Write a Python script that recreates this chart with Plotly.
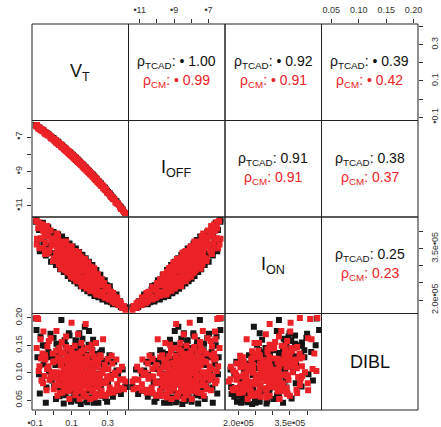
import plotly.graph_objects as go

# ---------------- data ----------------
# TCAD samples (black)
vt_tcad = [-0.097,-0.088,-0.079,-0.071,-0.062,-0.054,-0.047,-0.038,-0.031,-0.024,
           -0.016,-0.009,-0.003,0.004,0.011,0.017,0.023,0.029,0.034,0.039,
           0.044,0.049,0.053,0.058,0.062,0.066,0.070,0.074,0.078,0.081,
           0.085,0.088,0.092,0.095,0.098,0.101,0.104,0.107,0.110,0.113,
           0.116,0.119,0.122,0.125,0.128,0.131,0.134,0.137,0.140,0.143,
           0.146,0.149,0.152,0.155,0.158,0.161,0.164,0.167,0.170,0.173,
           0.176,0.179,0.182,0.186,0.190,0.194,0.198,0.202,0.206,0.210,
           0.214,0.219,0.224,0.229,0.234,0.239,0.244,0.249,0.255,0.261,
           0.267,0.273,0.280,0.287,0.294,0.301,0.309,0.317,0.326,0.335,
           0.345,0.356,0.368,0.382,0.396,
           0.120,0.150,0.060,0.200,0.257,0.090,
           -0.093,-0.075,-0.058,-0.042,-0.028,-0.013,0.001,0.014,0.026,0.037,
           0.048,0.057,0.069,0.079,0.089,0.097,0.106,0.115,0.124,0.133,
           0.142,0.151,0.160,0.169,0.178,0.187,0.196,0.205,0.215,0.226,
           0.237,0.248,0.259,0.270,0.283,0.296,0.311,0.328,0.348,0.372,
           0.135,0.105,0.165,0.075,0.222]
ioff_tcad = [-6.30,-6.41,-6.45,-6.53,-6.60,-6.63,-6.72,-6.77,-6.85,-6.89,
             -6.97,-7.03,-7.06,-7.14,-7.19,-7.26,-7.31,-7.34,-7.41,-7.43,
             -7.50,-7.52,-7.58,-7.61,-7.66,-7.70,-7.72,-7.78,-7.81,-7.82,
             -7.88,-7.89,-7.95,-7.96,-8.01,-8.02,-8.06,-8.07,-8.12,-8.13,
             -8.18,-8.19,-8.24,-8.25,-8.30,-8.31,-8.36,-8.37,-8.42,-8.43,
             -8.48,-8.50,-8.55,-8.56,-8.61,-8.62,-8.67,-8.68,-8.73,-8.75,
             -8.80,-8.81,-8.86,-8.88,-8.95,-8.97,-9.03,-9.06,-9.12,-9.14,
             -9.21,-9.24,-9.32,-9.36,-9.43,-9.47,-9.54,-9.58,-9.67,-9.72,
             -9.81,-9.86,-9.96,-10.03,-10.13,-10.19,-10.31,-10.39,-10.52,-10.61,
             -10.75,-10.87,-11.04,-11.21,-11.43,
             -8.20,-8.51,-7.63,-9.04,-9.68,-7.91,
             -6.31,-6.49,-6.58,-6.75,-6.82,-6.99,-7.07,-7.22,-7.28,-7.42,
             -7.48,-7.60,-7.68,-7.81,-7.87,-7.98,-8.03,-8.16,-8.21,-8.34,
             -8.39,-8.52,-8.58,-8.71,-8.76,-8.90,-8.96,-9.10,-9.17,-9.33,
             -9.41,-9.58,-9.66,-9.83,-9.94,-10.14,-10.28,-10.53,-10.74,-11.09,
             -8.32,-8.07,-8.63,-7.77,-9.25]
ion_tcad = [4.28,3.68,4.04,3.46,4.17,3.68,3.85,3.40,3.92,3.59,
            4.00,3.37,3.64,3.84,3.13,3.65,3.42,3.83,3.12,3.50,
            3.18,3.67,2.92,3.36,3.54,3.13,3.66,2.92,3.34,3.16,
            3.49,2.80,3.34,2.92,3.55,3.02,3.18,2.79,3.35,2.61,
            3.20,3.01,3.37,2.72,3.04,2.60,3.18,2.83,3.32,2.62,
            3.01,2.84,3.18,2.47,3.00,2.64,3.15,2.71,2.85,2.45,
            3.05,2.71,2.84,2.44,3.06,2.54,2.85,2.33,2.68,2.91,
            2.42,2.69,2.25,2.81,2.45,2.63,2.21,2.73,2.31,2.43,
            2.60,2.10,2.41,2.11,2.43,2.15,2.31,1.94,2.16,1.94,
            2.11,1.88,1.97,1.77,1.79,
            3.23,2.77,3.10,2.61,2.42,3.07,
            4.35,3.42,4.25,3.30,4.12,3.12,3.98,3.02,3.92,2.90,
            3.85,2.82,3.75,2.70,3.65,2.62,3.56,2.55,3.50,2.48,
            3.40,2.40,3.32,2.33,3.22,2.26,3.12,2.20,3.02,2.12,
            2.88,2.08,2.74,2.02,2.58,1.96,2.40,1.88,2.16,1.80,
            2.95,3.05,2.78,3.30,2.50]   # units of 1e-05
dibl_tcad = [0.199,0.128,0.097,0.166,0.086,0.115,0.149,0.073,0.128,0.102,
             0.171,0.086,0.130,0.075,0.114,0.153,0.093,0.132,0.057,0.116,
             0.196,0.081,0.135,0.100,0.159,0.059,0.119,0.083,0.143,0.093,
             0.172,0.067,0.107,0.129,0.053,0.119,0.089,0.145,0.072,0.108,
             0.132,0.079,0.159,0.094,0.118,0.058,0.136,0.098,0.075,0.172,
             0.087,0.122,0.058,0.108,0.146,0.078,0.100,0.125,0.063,0.184,
             0.079,0.114,0.049,0.133,0.093,0.151,0.067,0.107,0.126,0.071,
             0.096,0.160,0.055,0.114,0.081,0.134,0.060,0.098,0.117,0.072,
             0.141,0.084,0.107,0.054,0.119,0.083,0.132,0.062,0.096,0.120,
             0.067,0.098,0.067,0.106,0.074,
             0.109,0.095,0.115,0.120,0.098,0.102,
             0.178,0.062,0.150,0.045,0.138,0.091,0.164,0.052,0.141,0.068,
             0.155,0.044,0.150,0.066,0.168,0.047,0.139,0.061,0.158,0.049,
             0.147,0.043,0.162,0.058,0.131,0.046,0.176,0.055,0.141,0.050,
             0.128,0.045,0.137,0.058,0.122,0.047,0.119,0.056,0.104,0.061,
             0.148,0.052,0.135,0.140,0.045]

# compact-model samples (red)
vt_cm = [-0.095,-0.090,-0.084,-0.077,-0.071,-0.066,-0.060,-0.055,-0.049,-0.044,
         -0.038,-0.033,-0.027,-0.021,-0.015,-0.010,-0.004,0.002,0.007,0.012,
         0.017,0.022,0.026,0.030,0.034,0.038,0.042,0.046,0.050,0.054,
         0.058,0.061,0.064,0.067,0.070,0.073,0.076,0.079,0.082,0.085,
         0.088,0.091,0.094,0.097,0.100,0.103,0.106,0.109,0.112,0.115,
         0.118,0.121,0.124,0.127,0.130,0.133,0.136,0.139,0.142,0.145,
         0.148,0.151,0.154,0.157,0.160,0.163,0.166,0.169,0.172,0.175,
         0.178,0.181,0.184,0.187,0.190,0.193,0.196,0.199,0.203,0.207,
         0.211,0.215,0.219,0.223,0.227,0.231,0.235,0.239,0.243,0.248,
         0.253,0.258,0.263,0.268,0.274,0.280,0.286,0.292,0.299,0.306,
         0.313,0.321,0.329,0.338,0.347,0.357,0.367,0.378,0.389,0.397,
         0.062,0.083,0.095,0.108,0.121,0.134,0.147,0.159,
         0.171,0.185,0.197,0.212,0.226,0.241,0.139,0.116,0.074,0.045,
         -0.092,-0.081,-0.068,-0.057,-0.046,-0.035,-0.025,-0.012,-0.002,0.008,
         0.015,0.020,0.027,0.032,0.036,0.041,0.047,0.052,0.056,0.059,
         0.063,0.068,0.071,0.077,0.080,0.084,0.087,0.090,0.093,0.096,
         0.099,0.102,0.105,0.110,0.113,0.117,0.120,0.123,0.126,0.129,
         0.132,0.135,0.138,0.141,0.144,0.149,0.152,0.155,0.158,0.162,
         0.165,0.168,0.173,0.176,0.179,0.183,0.186,0.189,0.192,0.195,
         0.201,0.205,0.209,0.213,0.217,0.221,0.225,0.229,0.233,0.237,
         0.245,0.250,0.256,0.261,0.266,0.271,0.277,0.283,0.289,0.296,
         0.303,0.310,0.318,0.325,0.333,0.342,0.352,0.362,0.373,0.385]
ioff_cm = [-6.38,-6.30,-6.49,-6.44,-6.60,-6.53,-6.67,-6.62,-6.76,-6.71,
           -6.85,-6.80,-6.93,-6.90,-7.04,-6.99,-7.13,-7.10,-7.24,-7.18,
           -7.33,-7.27,-7.40,-7.35,-7.46,-7.42,-7.55,-7.49,-7.61,-7.57,
           -7.69,-7.64,-7.75,-7.68,-7.80,-7.74,-7.86,-7.80,-7.92,-7.85,
           -7.97,-7.92,-8.03,-7.98,-8.09,-8.03,-8.15,-8.09,-8.20,-8.15,
           -8.27,-8.21,-8.33,-8.27,-8.38,-8.33,-8.44,-8.39,-8.51,-8.45,
           -8.57,-8.51,-8.63,-8.58,-8.70,-8.64,-8.76,-8.70,-8.82,-8.77,
           -8.88,-8.83,-8.95,-8.89,-9.01,-8.96,-9.08,-9.02,-9.15,-9.11,
           -9.24,-9.20,-9.33,-9.29,-9.42,-9.38,-9.51,-9.47,-9.60,-9.57,
           -9.71,-9.69,-9.82,-9.80,-9.95,-9.94,-10.09,-10.08,-10.25,-10.25,
           -10.41,-10.43,-10.61,-10.65,-10.84,-10.88,-11.08,-11.15,-11.36,-11.42,
           -7.70,-7.83,-8.00,-8.12,-8.25,-8.36,-8.53,-8.60,
           -8.78,-8.86,-9.06,-9.17,-9.37,-9.53,-8.45,-8.16,-7.80,-7.52,
           -6.36,-6.52,-6.58,-6.61,-6.81,-6.84,-6.88,-7.08,-7.12,-7.16,
           -7.31,-7.30,-7.33,-7.46,-7.44,-7.45,-7.60,-7.60,-7.59,-7.71,
           -7.70,-7.70,-7.82,-7.83,-7.81,-7.95,-7.93,-7.91,-8.03,-8.01,
           -8.00,-8.12,-8.10,-8.11,-8.23,-8.22,-8.21,-8.33,-8.31,-8.30,
           -8.42,-8.40,-8.39,-8.51,-8.49,-8.50,-8.62,-8.60,-8.59,-8.72,
           -8.71,-8.70,-8.84,-8.82,-8.81,-8.95,-8.93,-8.92,-9.04,-9.03,
           -9.05,-9.18,-9.18,-9.18,-9.32,-9.31,-9.31,-9.45,-9.45,-9.45,
           -9.63,-9.64,-9.67,-9.81,-9.82,-9.84,-10.00,-10.02,-10.05,-10.22,
           -10.26,-10.30,-10.49,-10.53,-10.59,-10.79,-10.87,-10.95,-11.18,-11.29]
ion_cm = [4.30,3.79,4.09,3.51,4.13,3.80,4.21,3.51,3.86,3.66,
          4.03,3.35,3.85,3.46,4.03,3.58,3.78,3.22,3.63,3.82,
          3.25,3.50,3.86,3.04,3.54,3.26,3.65,3.07,3.40,3.66,
          3.11,3.45,2.87,3.69,3.18,3.44,2.90,3.30,3.56,2.97,
          3.20,2.78,3.40,3.01,3.52,2.83,3.19,3.38,2.64,3.00,
          3.26,2.82,3.36,2.65,3.06,3.39,2.80,3.12,2.63,3.19,
          2.85,3.27,2.47,2.98,2.66,3.15,2.57,2.85,3.19,2.43,
          2.91,2.65,2.98,2.42,2.79,3.04,2.50,2.84,2.27,2.65,
          2.91,2.37,2.69,2.50,2.82,2.22,2.60,2.33,2.71,2.16,
          2.47,2.61,2.19,2.43,2.24,2.49,2.06,2.29,2.38,2.02,
          2.22,2.05,2.21,1.91,2.08,1.86,1.95,1.78,1.83,1.72,
          3.19,3.40,2.89,3.13,3.17,2.86,3.15,2.83,
          2.89,2.58,2.72,2.51,2.69,2.42,2.96,2.75,3.02,3.42,
          3.62,4.27,3.79,4.02,3.34,4.16,3.42,3.74,3.14,3.79,
          3.36,3.94,3.14,3.48,3.71,2.91,3.51,3.12,3.70,2.96,
          3.37,3.15,3.71,2.81,3.43,3.14,3.48,2.89,3.27,2.68,
          3.57,2.93,3.12,3.40,2.71,3.22,2.93,3.43,2.56,3.07,
          2.75,3.26,2.90,3.38,2.54,3.04,2.63,3.23,2.40,2.85,
          3.07,2.51,3.20,2.65,2.91,2.34,3.04,2.63,3.10,2.43,
          2.76,2.28,2.97,2.58,2.80,2.28,2.93,2.38,2.56,2.16,
          2.75,2.23,2.52,2.13,2.61,2.23,2.49,2.08,2.35,2.10,
          2.35,2.05,2.24,1.96,2.13,1.93,2.06,1.85,1.91,1.77]   # units of 1e-05
dibl_cm = [0.200,0.200,0.198,0.112,0.161,0.086,0.135,0.175,0.094,0.124,
           0.068,0.148,0.112,0.087,0.163,0.101,0.135,0.070,0.121,0.091,
           0.176,0.058,0.128,0.099,0.145,0.077,0.114,0.156,0.064,0.123,
           0.090,0.135,0.104,0.069,0.166,0.095,0.128,0.078,0.118,0.144,
           0.052,0.107,0.130,0.083,0.191,0.071,0.112,0.135,0.078,0.102,
           0.149,0.059,0.117,0.089,0.126,0.068,0.170,0.093,0.117,0.052,
           0.137,0.096,0.154,0.076,0.106,0.125,0.063,0.143,0.083,0.114,
           0.189,0.056,0.101,0.128,0.071,0.145,0.087,0.117,0.052,0.106,
           0.151,0.066,0.090,0.130,0.055,0.111,0.154,0.074,0.096,0.120,
           0.058,0.132,0.082,0.104,0.161,0.060,0.110,0.084,0.125,0.063,
           0.094,0.131,0.069,0.100,0.124,0.068,0.087,0.111,0.070,0.084,
           0.084,0.110,0.123,0.088,0.104,0.110,0.090,0.118,
           0.080,0.096,0.102,0.081,0.115,0.083,0.099,0.118,0.100,0.094,
           0.145,0.103,0.126,0.081,0.132,0.107,0.158,0.092,0.119,0.077,
           0.140,0.101,0.086,0.124,0.063,0.113,0.137,0.092,0.108,0.074,
           0.121,0.097,0.147,0.085,0.112,0.066,0.127,0.099,0.081,0.115,
           0.140,0.090,0.106,0.072,0.123,0.095,0.109,0.061,0.134,0.086,
           0.101,0.120,0.075,0.097,0.128,0.084,0.110,0.066,0.139,0.091,
           0.105,0.079,0.122,0.096,0.058,0.113,0.088,0.131,0.073,0.100,
           0.118,0.080,0.094,0.140,0.069,0.103,0.085,0.124,0.062,0.097,
           0.110,0.076,0.092,0.128,0.067,0.099,0.081,0.114,0.058,0.093,
           0.107,0.073,0.089,0.117,0.064,0.096,0.079,0.104,0.072,0.088]

var_labels = ["V<sub>T</sub>", "I<sub>OFF</sub>", "I<sub>ON</sub>", "DIBL"]

# correlation labels for the upper panels (row, col)
rho_cells = [(0, 1), (0, 2), (0, 3), (1, 2), (1, 3), (2, 3)]
rho_tcad = ["• 1.00", "• 0.92", "• 0.39", "0.91", "0.38", "0.25"]
rho_cm = ["• 0.99", "• 0.91", "• 0.42", "0.91", "0.37", "0.23"]

# axis ticks: labelled ticks and the full tick set
vt_ticks = [-0.1, 0.1, 0.3]
vt_ticktext = ["•0.1", "0.1", "0.3"]
vt_alltick = [-0.1, 0.0, 0.1, 0.2, 0.3, 0.4]
ioff_ticks = [-11, -9, -7]
ioff_ticktext = ["•11", "•9", "•7"]
ioff_alltick = [-11, -10, -9, -8, -7]
ion_ticks = [2.0, 3.5]
ion_ticktext = ["2.0e•05", "3.5e•05"]
ion_alltick = [2.0, 2.5, 3.0, 3.5, 4.0]
dibl_ticks = [0.05, 0.10, 0.15, 0.20]
dibl_ticktext = ["0.05", "0.10", "0.15", "0.20"]
dibl_alltick = [0.05, 0.10, 0.15, 0.20]

# ---------------- figure ----------------
W, H = 441, 427
ML, MR, MT, MB = 32, 23, 24, 17
N = 4
BLACK = "#151515"
RED = "#ec2227"
FONT = "Liberation Sans, Arial, sans-serif"
MSIZE = 6

data_tcad = [vt_tcad, ioff_tcad, ion_tcad, dibl_tcad]
data_cm = [vt_cm, ioff_cm, ion_cm, dibl_cm]
ranges = [[-0.118, 0.414], [-11.65, -6.04], [1.61, 4.42], [0.032, 0.208]]
tick_sets = [(vt_ticks, vt_ticktext, vt_alltick), (ioff_ticks, ioff_ticktext, ioff_alltick),
             (ion_ticks, ion_ticktext, ion_alltick), (dibl_ticks, dibl_ticktext, dibl_alltick)]

fig = go.Figure()
layout = dict(width=W, height=H,
              margin=dict(l=ML, r=MR, t=MT, b=MB, autoexpand=False),
              paper_bgcolor="white", plot_bgcolor="white", showlegend=False,
              font=dict(family=FONT, color="#222"))

tickfont = dict(family=FONT, size=9, color="#333")


def tick_style(i, standoff):
    tv, tt, allt = tick_sets[i]
    return dict(showticklabels=True, ticks="outside", ticklen=4, tickcolor="#333",
                tickwidth=1, tickfont=tickfont, tickmode="array", tickvals=tv, ticktext=tt,
                ticklabelstandoff=standoff, automargin=False,
                minor=dict(tickmode="array", tickvals=allt, ticks="outside", ticklen=4,
                           tickcolor="#333", tickwidth=1, showgrid=False))


for r in range(N):
    for c in range(N):
        k = r * N + c + 1
        sx = "" if k == 1 else str(k)
        xa = dict(domain=[c / N, (c + 1) / N], anchor="y" + sx, range=ranges[c],
                  showgrid=False, zeroline=False, showline=False, automargin=False,
                  showticklabels=False, ticks="", fixedrange=True)
        ya = dict(domain=[1 - (r + 1) / N, 1 - r / N], anchor="x" + sx, range=ranges[r],
                  showgrid=False, zeroline=False, showline=False, automargin=False,
                  showticklabels=False, ticks="", fixedrange=True)
        # R pairs() alternating axes
        if r == N - 1 and c % 2 == 0:
            xa.update(side="bottom", **tick_style(c, 0))
        if r == 0 and c % 2 == 1:
            xa.update(side="top", **tick_style(c, 2))
        if c == 0 and r % 2 == 1:
            ya.update(side="left", tickangle=-90, **tick_style(r, 1))
        if c == N - 1 and r % 2 == 0:
            ya.update(side="right", tickangle=-90, **tick_style(r, 4))
        layout["xaxis" + sx] = xa
        layout["yaxis" + sx] = ya

        if r > c:
            for data, col in ((data_tcad, BLACK), (data_cm, RED)):
                fig.add_trace(go.Scatter(
                    x=data[c], y=data[r], mode="markers",
                    xaxis="x" + sx, yaxis="y" + sx, hoverinfo="skip",
                    marker=dict(symbol="square", size=MSIZE, color=col, line=dict(width=0))))
        else:
            # empty placeholder so that the panel's axes are drawn
            fig.add_trace(go.Scatter(x=[None], y=[None], mode="markers",
                                     xaxis="x" + sx, yaxis="y" + sx, hoverinfo="skip"))

shapes = []
for r in range(N):
    for c in range(N):
        shapes.append(dict(type="rect", xref="paper", yref="paper",
                           x0=c / N, x1=(c + 1) / N, y0=1 - (r + 1) / N, y1=1 - r / N,
                           line=dict(color="#222", width=1), fillcolor="rgba(0,0,0,0)"))
layout["shapes"] = shapes

annotations = []
ph = H - MT - MB
for i, lab in enumerate(var_labels):
    annotations.append(dict(xref="paper", yref="paper", x=(i + 0.5) / N, y=1 - (i + 0.5) / N,
                            text=lab, showarrow=False, xanchor="center", yanchor="middle",
                            font=dict(family=FONT, size=18, color="#111")))
for (r, c), t1, t2 in zip(rho_cells, rho_tcad, rho_cm):
    cy = 1 - (r + 0.5) / N
    annotations.append(dict(xref="paper", yref="paper", x=(c + 0.5) / N, y=cy + 10 / ph,
                            text="ρ<sub>TCAD</sub>: " + t1, showarrow=False,
                            xanchor="center", yanchor="middle",
                            font=dict(family=FONT, size=14, color="#111")))
    annotations.append(dict(xref="paper", yref="paper", x=(c + 0.5) / N, y=cy - 9 / ph,
                            text="ρ<sub>CM</sub>: " + t2, showarrow=False,
                            xanchor="center", yanchor="middle",
                            font=dict(family=FONT, size=14, color=RED)))
layout["annotations"] = annotations

fig.update_layout(**layout)
fig.write_html("out.html")
